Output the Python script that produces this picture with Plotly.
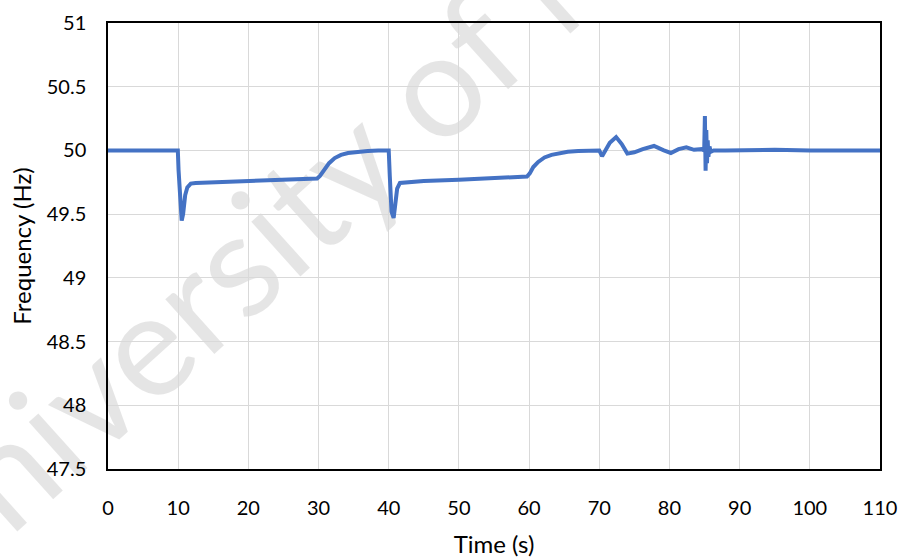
import plotly.graph_objects as go

# Time samples (s) and measured grid frequency (Hz)
time_s = [0, 9.95, 10.05, 10.3, 10.5, 10.7, 11.0, 11.3, 11.8, 12.5, 15, 20, 25, 29.8,
          30.2, 30.8, 31.5, 32.3, 33.2, 34.2, 35.5, 37, 38.5, 40.0, 40.15, 40.4,
          40.7, 40.9, 41.2, 41.6, 42.5, 45, 50, 55, 59.7, 60.1, 60.6, 61.3, 62.2,
          63.2, 64.3, 65.5, 67, 68.5, 70.0, 70.4, 70.8, 71.5, 72.4, 73.2, 74.0,
          75.0, 76.2, 77.8, 79.2, 80.2, 81.3, 82.4, 83.5, 84.6, 84.95, 85.05,
          85.15, 85.25, 85.35, 85.45, 85.55, 85.7, 85.9, 86.3, 88, 95, 100, 105, 110]
freq_hz = [50.0, 50.0, 49.85, 49.55, 49.45, 49.5, 49.65, 49.71, 49.74, 49.745, 49.75,
           49.755, 49.77, 49.78, 49.8, 49.85, 49.9, 49.94, 49.965, 49.98, 49.99,
           49.995, 50.0, 50.0, 49.8, 49.52, 49.47, 49.55, 49.7, 49.745, 49.75, 49.76,
           49.77, 49.78, 49.795, 49.82, 49.87, 49.91, 49.945, 49.965, 49.98, 49.99,
           49.995, 50.0, 50.0, 49.955, 49.99, 50.06, 50.105, 50.05, 49.975, 49.985,
           50.01, 50.035, 50.0, 49.98, 50.01, 50.025, 50.005, 50.01, 50.0, 50.27,
           49.84, 50.16, 49.9, 50.08, 49.95, 50.03, 49.99, 50.0, 50.0, 50.005,
           50.0, 50.0, 50.0]

x_ticks = list(range(0, 111, 10))
y_ticks = [47.5, 48, 48.5, 49, 49.5, 50, 50.5, 51]
y_tick_text = ["47.5", "48", "48.5", "49", "49.5", "50", "50.5", "51"]

font_family = "Lato, 'Open Sans', sans-serif"

fig = go.Figure()
fig.add_trace(go.Scatter(
    x=time_s, y=freq_hz, mode="lines",
    line=dict(color="#4472C4", width=4),
    showlegend=False,
))

fig.update_layout(
    width=905, height=559,
    margin=dict(l=108, r=25, t=23, b=90),
    paper_bgcolor="white", plot_bgcolor="white",
    font=dict(family=font_family, size=20, color="#000000"),
)

fig.update_xaxes(
    range=[0, 110], tickvals=x_ticks, automargin=False,
    showgrid=True, gridcolor="#d9d9d9", gridwidth=1.3,
    showline=True, linecolor="black", linewidth=1.5, mirror=True,
    ticks="outside", ticklen=20, tickcolor="rgba(0,0,0,0)",
    zeroline=False,
    title=dict(text="Time (s)", standoff=18, font=dict(size=24)),
)
fig.update_yaxes(
    range=[47.5, 51], tickvals=y_ticks, ticktext=y_tick_text, automargin=False,
    showgrid=True, gridcolor="#d9d9d9", gridwidth=1.3,
    showline=True, linecolor="black", linewidth=1.5, mirror=True,
    ticks="outside", ticklen=16, tickcolor="rgba(0,0,0,0)",
    zeroline=False,
    title=dict(text="Frequency (Hz)", standoff=8, font=dict(size=24)),
)

# Diagonal repository watermark, kept beneath the trace
fig.add_shape(
    type="rect", xref="paper", yref="paper",
    x0=0.3375, x1=0.3575, y0=0.75, y1=0.77,
    line=dict(width=0), fillcolor="rgba(0,0,0,0)", layer="below",
    label=dict(
        text="University of Malaya", textposition="middle center",
        textangle=-42,
        font=dict(family=font_family, size=145, color="rgba(0,0,0,0.1)"),
    ),
)

fig.write_html("out.html")
